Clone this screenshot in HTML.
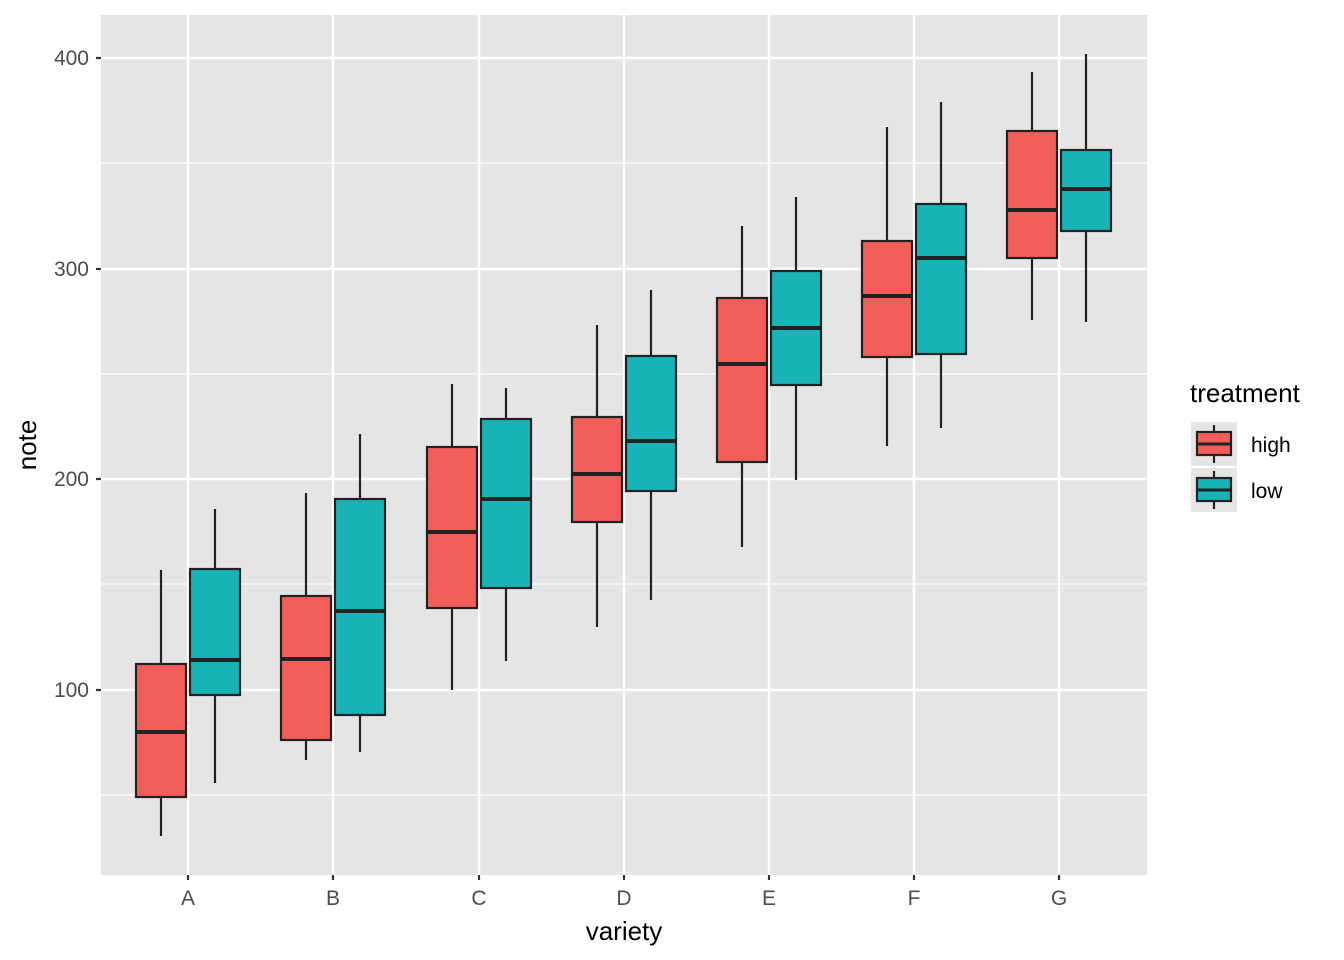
<!DOCTYPE html>
<html><head><style>body{margin:0;background:#fff}svg{display:block}</style></head><body>
<svg width="1344" height="960" xmlns="http://www.w3.org/2000/svg" font-family="Liberation Sans, sans-serif">
<rect x="101" y="15" width="1046" height="860" fill="#e5e5e5"/>
<g stroke="#fff" stroke-width="1.2">
<line x1="101" x2="1147" y1="795" y2="795"/><line x1="101" x2="1147" y1="584" y2="584"/><line x1="101" x2="1147" y1="374" y2="374"/><line x1="101" x2="1147" y1="163" y2="163"/>
</g>
<g stroke="#fff" stroke-width="2.4">
<line x1="101" x2="1147" y1="690" y2="690"/><line x1="101" x2="1147" y1="479" y2="479"/><line x1="101" x2="1147" y1="269" y2="269"/><line x1="101" x2="1147" y1="58" y2="58"/>
<line y1="15" y2="875" x1="188" x2="188"/><line y1="15" y2="875" x1="333" x2="333"/><line y1="15" y2="875" x1="479" x2="479"/><line y1="15" y2="875" x1="624" x2="624"/><line y1="15" y2="875" x1="769" x2="769"/><line y1="15" y2="875" x1="914" x2="914"/><line y1="15" y2="875" x1="1059" x2="1059"/>
</g>
<g stroke="#222" stroke-width="2.2">
<line x1="161" x2="161" y1="570" y2="836"/><rect x="136" y="664" width="50" height="133" fill="#f35e5a"/><line x1="136" x2="186" y1="732" y2="732" stroke-width="4"/>
<line x1="215" x2="215" y1="509" y2="783"/><rect x="190" y="569" width="50" height="126" fill="#17b3b7"/><line x1="190" x2="240" y1="660" y2="660" stroke-width="4"/>
<line x1="306" x2="306" y1="493" y2="760"/><rect x="281" y="596" width="50" height="144" fill="#f35e5a"/><line x1="281" x2="331" y1="659" y2="659" stroke-width="4"/>
<line x1="360" x2="360" y1="434" y2="752"/><rect x="335" y="499" width="50" height="216" fill="#17b3b7"/><line x1="335" x2="385" y1="611" y2="611" stroke-width="4"/>
<line x1="452" x2="452" y1="384" y2="690"/><rect x="427" y="447" width="50" height="161" fill="#f35e5a"/><line x1="427" x2="477" y1="532" y2="532" stroke-width="4"/>
<line x1="506" x2="506" y1="388" y2="661"/><rect x="481" y="419" width="50" height="169" fill="#17b3b7"/><line x1="481" x2="531" y1="499" y2="499" stroke-width="4"/>
<line x1="597" x2="597" y1="325" y2="627"/><rect x="572" y="417" width="50" height="105" fill="#f35e5a"/><line x1="572" x2="622" y1="474" y2="474" stroke-width="4"/>
<line x1="651" x2="651" y1="290" y2="600"/><rect x="626" y="356" width="50" height="135" fill="#17b3b7"/><line x1="626" x2="676" y1="441" y2="441" stroke-width="4"/>
<line x1="742" x2="742" y1="226" y2="547"/><rect x="717" y="298" width="50" height="164" fill="#f35e5a"/><line x1="717" x2="767" y1="364" y2="364" stroke-width="4"/>
<line x1="796" x2="796" y1="197" y2="480"/><rect x="771" y="271" width="50" height="114" fill="#17b3b7"/><line x1="771" x2="821" y1="328" y2="328" stroke-width="4"/>
<line x1="887" x2="887" y1="127" y2="446"/><rect x="862" y="241" width="50" height="116" fill="#f35e5a"/><line x1="862" x2="912" y1="296" y2="296" stroke-width="4"/>
<line x1="941" x2="941" y1="102" y2="428"/><rect x="916" y="204" width="50" height="150" fill="#17b3b7"/><line x1="916" x2="966" y1="258" y2="258" stroke-width="4"/>
<line x1="1032" x2="1032" y1="72" y2="320"/><rect x="1007" y="131" width="50" height="127" fill="#f35e5a"/><line x1="1007" x2="1057" y1="210" y2="210" stroke-width="4"/>
<line x1="1086" x2="1086" y1="54" y2="322"/><rect x="1061" y="150" width="50" height="81" fill="#17b3b7"/><line x1="1061" x2="1111" y1="189" y2="189" stroke-width="4"/>
</g>
<g stroke="#333" stroke-width="2.2">
<line x1="96" x2="101" y1="690" y2="690"/><line x1="96" x2="101" y1="479" y2="479"/><line x1="96" x2="101" y1="269" y2="269"/><line x1="96" x2="101" y1="58" y2="58"/>
<line y1="875" y2="880" x1="188" x2="188"/><line y1="875" y2="880" x1="333" x2="333"/><line y1="875" y2="880" x1="479" x2="479"/><line y1="875" y2="880" x1="624" x2="624"/><line y1="875" y2="880" x1="769" x2="769"/><line y1="875" y2="880" x1="914" x2="914"/><line y1="875" y2="880" x1="1059" x2="1059"/>
</g>
<g font-size="21" fill="#4d4d4d" text-anchor="end">
<text x="89" y="697">100</text><text x="89" y="486">200</text><text x="89" y="276">300</text><text x="89" y="65">400</text>
</g>
<g font-size="21" fill="#4d4d4d" text-anchor="middle">
<text x="188" y="905">A</text><text x="333" y="905">B</text><text x="479" y="905">C</text><text x="624" y="905">D</text><text x="769" y="905">E</text><text x="914" y="905">F</text><text x="1059" y="905">G</text>
</g>
<text x="624" y="940" font-size="26" text-anchor="middle" fill="#000">variety</text>
<text transform="translate(36,445) rotate(-90)" font-size="26" text-anchor="middle" fill="#000">note</text>
<text x="1190" y="402" font-size="26" fill="#000">treatment</text>
<rect x="1191" y="422" width="46" height="44" fill="#e5e5e5"/><rect x="1191" y="468" width="46" height="44" fill="#e5e5e5"/>
<g stroke="#222" stroke-width="2.2">
<line x1="1214" x2="1214" y1="425" y2="463"/><rect x="1197" y="432" width="34" height="23" fill="#f35e5a"/><line x1="1197" x2="1231" y1="444" y2="444" stroke-width="3"/>
<line x1="1214" x2="1214" y1="471" y2="509"/><rect x="1197" y="478" width="34" height="23" fill="#17b3b7"/><line x1="1197" x2="1231" y1="490" y2="490" stroke-width="3"/>
</g>
<text x="1251" y="452" font-size="21" fill="#000">high</text>
<text x="1251" y="498" font-size="21" fill="#000">low</text>
</svg>
</body></html>
